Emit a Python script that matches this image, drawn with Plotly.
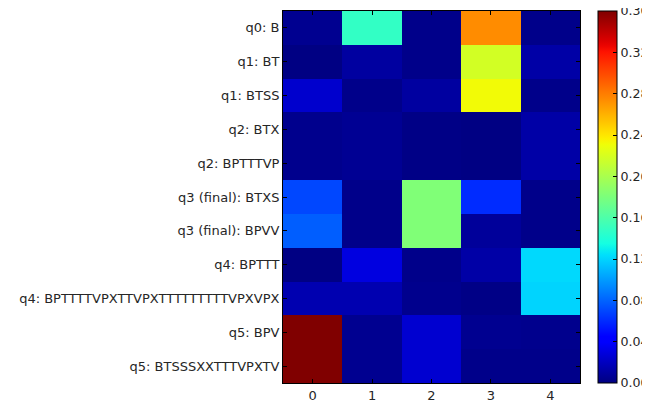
import numpy as np
import plotly.graph_objects as go

row_labels = [
    "q0: B",
    "q1: BT",
    "q1: BTSS",
    "q2: BTX",
    "q2: BPTTTVP",
    "q3 (final): BTXS",
    "q3 (final): BPVV",
    "q4: BPTTT",
    "q4: BPTTTTVPXTTVPXTTTTTTTTTVPXVPX",
    "q5: BPV",
    "q5: BTSSSXXTTTVPXTV",
]
col_labels = [0, 1, 2, 3, 4]

col0 = [0.005, 0.001, 0.024, 0.004, 0.004, 0.070, 0.078, 0.001, 0.015, 0.360, 0.360]
col1 = [0.148, 0.010, 0.003, 0.006, 0.006, 0.003, 0.003, 0.030, 0.015, 0.005, 0.005]
col2 = [0.003, 0.003, 0.010, 0.002, 0.002, 0.182, 0.182, 0.003, 0.004, 0.025, 0.025]
col3 = [0.274, 0.218, 0.232, 0.001, 0.001, 0.060, 0.008, 0.012, 0.002, 0.005, 0.003]
col4 = [0.003, 0.012, 0.003, 0.012, 0.012, 0.003, 0.003, 0.1215, 0.120, 0.004, 0.003]

z = np.array([col0, col1, col2, col3, col4]).T

cbar_ticks = [0.00, 0.04, 0.08, 0.12, 0.16, 0.20, 0.24, 0.28, 0.32, 0.36]

# matplotlib 'jet' segment data
seg_r = [(0, 0), (0.35, 0), (0.66, 1), (0.89, 1), (1, 0.5)]
seg_g = [(0, 0), (0.125, 0), (0.375, 1), (0.64, 1), (0.91, 0), (1, 0)]
seg_b = [(0, 0.5), (0.11, 1), (0.34, 1), (0.65, 0), (1, 0)]


def interp(seg, t):
    xs = [p[0] for p in seg]
    ys = [p[1] for p in seg]
    return float(np.interp(t, xs, ys))


jet = []
for t in np.linspace(0, 1, 65):
    r = int(round(interp(seg_r, t) * 255))
    g = int(round(interp(seg_g, t) * 255))
    b = int(round(interp(seg_b, t) * 255))
    jet.append([float(t), f"rgb({r},{g},{b})"])

font_color = "#262626"
fsize = 13
cb_fsize = 12.6

# page body adds an 8px offset; compensate so the plot lands where the reference has it
off = 8
W, H = 650 - off, 405 - off
plot_l, plot_r, plot_t, plot_b = 283, 580, 11, 383

fig = go.Figure(
    go.Heatmap(
        z=z,
        x=col_labels,
        y=row_labels,
        colorscale=jet,
        zmin=0,
        zmax=0.36,
        colorbar=dict(
            x=(598 - plot_l) / (plot_r - plot_l),
            xanchor="left",
            xpad=0,
            y=1,
            yanchor="top",
            ypad=0,
            len=1,
            thickness=19,
            outlinecolor="black",
            outlinewidth=1,
            tickvals=cbar_ticks,
            ticktext=[f"{v:.2f}" for v in cbar_ticks],
            ticks="inside",
            ticklen=4,
            tickcolor="black",
            ticklabeloverflow="allow",
            tickfont=dict(size=cb_fsize, color=font_color),
        ),
    )
)

fig.update_layout(
    width=W,
    height=H,
    margin=dict(
        l=plot_l - off,
        r=W - (plot_r - off),
        t=plot_t - off,
        b=H - (plot_b - off),
        autoexpand=False,
    ),
    paper_bgcolor="white",
    plot_bgcolor="white",
    font=dict(family="DejaVu Sans", size=fsize, color=font_color),
)
fig.update_xaxes(
    range=[-0.5, 4.5],
    tickvals=col_labels,
    ticks="inside",
    ticklen=4,
    tickcolor="black",
    showline=True,
    linecolor="black",
    linewidth=1,
    mirror="ticks",
    showgrid=False,
    zeroline=False,
    automargin=False,
)
fig.update_yaxes(
    autorange="reversed",
    ticks="inside",
    ticklen=4,
    tickcolor="black",
    showline=True,
    linecolor="black",
    linewidth=1,
    mirror="ticks",
    showgrid=False,
    zeroline=False,
    automargin=False,
)

fig.write_html("out.html")
